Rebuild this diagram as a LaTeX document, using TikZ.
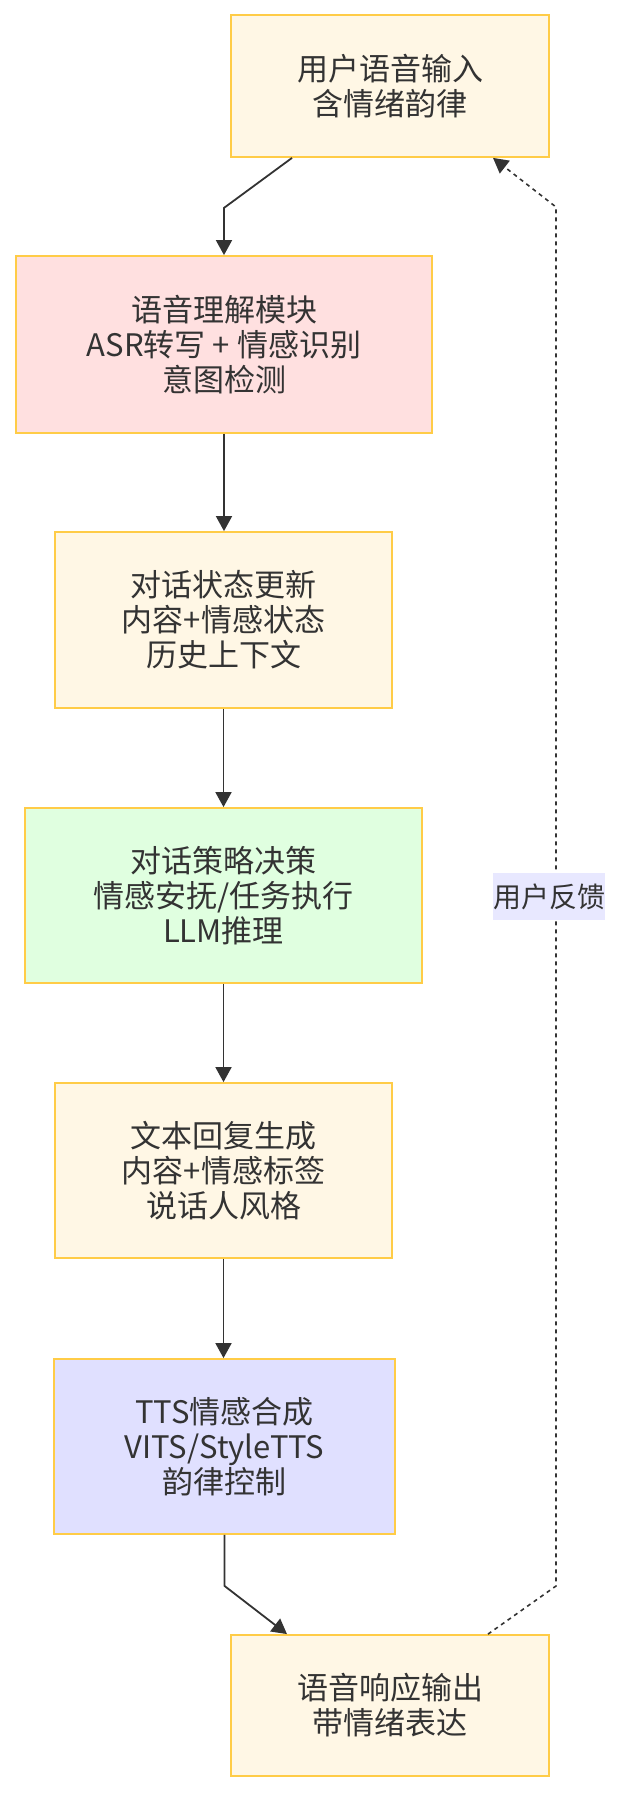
\documentclass[tikz,border=0pt]{standalone}
\usepackage{fontspec}
\setmainfont{Noto Sans CJK SC}
\usepackage{tikz}
\usetikzlibrary{arrows.meta,calc,positioning}
\definecolor{inkgray}{HTML}{333333}
\definecolor{goldline}{HTML}{FFCC47}
\definecolor{creamfill}{HTML}{FFF7E5}
\definecolor{pinkfill}{HTML}{FFE0E0}
\definecolor{mintfill}{HTML}{E0FFE0}
\definecolor{lilacfill}{HTML}{E0E0FF}
\definecolor{labelfill}{HTML}{E8E8FF}

\tikzset{
  stagebox/.style={draw=goldline, line width=1.8pt, fill=creamfill, text=inkgray,
    align=center, inner sep=0pt, font=\fontsize{31}{35}\selectfont},
  flow/.style={draw=inkgray, line width=1.8pt, -{Triangle[length=15pt,width=16pt]}},
  feedback/.style={draw=inkgray, line width=1.6pt, dash pattern=on 4pt off 4pt,
    -{Triangle[length=15pt,width=16pt]}}
}

\begin{document}
\begin{tikzpicture}[x=1pt, y=-1pt]
        \useasboundingbox (0,0) rectangle (636,1794);
        % Draw the pipeline stages
        \node[stagebox, minimum width=318pt, minimum height=142pt] (input) at (390,86) {用户语音输入\\含情绪韵律};
        \node[stagebox, fill=pinkfill, minimum width=416pt, minimum height=177pt] (asr) at (224,344.5) {语音理解模块\\ASR转写 + 情感识别\\意图检测};
        \node[stagebox, minimum width=337pt, minimum height=176pt] (state) at (223.5,620) {对话状态更新\\内容+情感状态\\历史上下文};
        \node[stagebox, fill=mintfill, minimum width=397pt, minimum height=175pt] (policy) at (223.5,895.5) {对话策略决策\\情感安抚/任务执行\\LLM推理};
        \node[stagebox, minimum width=337pt, minimum height=175pt] (reply) at (223.5,1170.5) {文本回复生成\\内容+情感标签\\说话人风格};
        \node[stagebox, fill=lilacfill, minimum width=341pt, minimum height=175pt] (tts) at (224.5,1446.5) {TTS情感合成\\VITS/StyleTTS\\韵律控制};
        \node[stagebox, minimum width=318pt, minimum height=141pt] (output) at (390,1705.5) {语音响应输出\\带情绪表达};

        % Draw connecting arrows
        \draw[flow] ([xshift=-98pt]input.south) -- ++(-68,50) -- (asr.north);
        \foreach \src/\dst in {asr/state, state/policy, policy/reply, reply/tts} {
            \draw[flow] (\src.south) -- (\src.south |- \dst.north);
          }
        \draw[flow] (tts.south) -- ++(0,51) -- ([xshift=-103pt]output.north);

        % Draw the feedback loop
        \draw[feedback] ([xshift=98pt]output.north) -- (556,1586) -- (556,207)
            node[pos=0.5, xshift=-7pt, fill=labelfill, text=inkgray, inner sep=0pt,
              minimum height=47pt, font=\fontsize{28}{30}\selectfont] (fbtext) {用户反馈}
            -- ([xshift=103pt]input.south);
      \end{tikzpicture}
\end{document}
